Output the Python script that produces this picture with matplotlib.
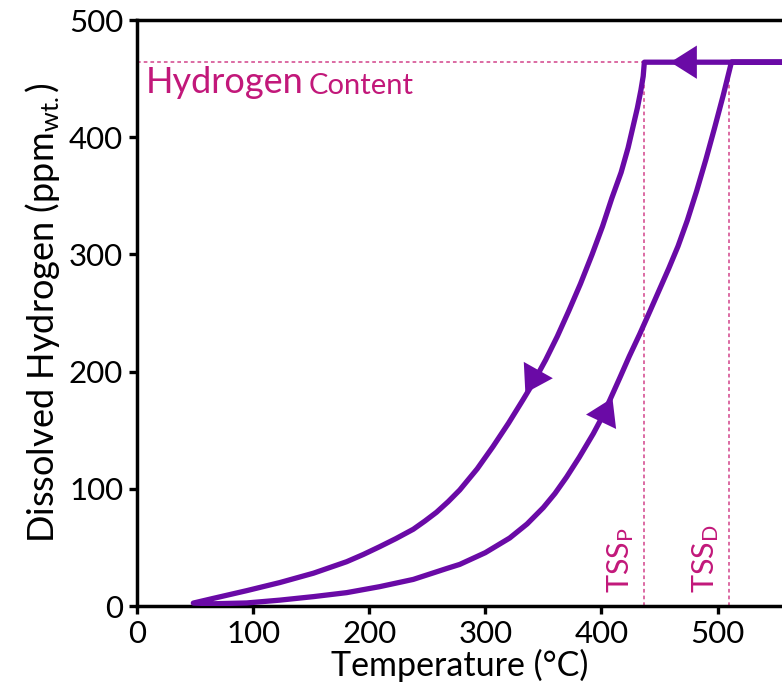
import matplotlib
matplotlib.use("Agg")
import matplotlib.pyplot as plt

plt.rcParams['font.family'] = ['Lato', 'DejaVu Sans']
plt.rcParams['mathtext.fontset'] = 'custom'
plt.rcParams['mathtext.rm'] = 'Lato'
plt.rcParams['mathtext.it'] = 'Lato:italic'

# ---- data ----
hydrogen_content = 464          # ppm
tssp_temp = 437                 # degC
tssd_temp = 510                 # degC

# precipitation (cooling) branch, from top to the low-temperature tip
tssp_x = [437, 436, 434, 431, 427, 423, 417, 409, 401, 392, 382, 372, 362, 352,
          341, 332.5, 320, 306.6, 293, 278, 268, 258, 248, 238, 223, 209, 195, 180.6,
          152, 123, 94.5, 65.7, 48.5]
tssp_y = [464, 452, 440, 425, 408, 391, 370, 348, 324, 300, 275, 252, 230, 210,
          190, 176, 156, 136, 117, 99, 89, 80, 72.5, 65.5, 57.5, 50.6, 44, 37.8,
          28, 20, 13.1, 6.5, 2.5]

# dissolution (heating) branch, from the tip to the top
tssd_x = [48.5, 65.7, 94.5, 123, 152, 180.6, 209, 238, 266.8, 278, 300, 321, 336, 350,
          360, 370, 381, 393, 400, 407.4, 416, 424, 433, 442, 450, 458, 466, 474, 482,
          490, 497.5, 505, 512]
tssd_y = [2.5, 1.9, 2.6, 5, 8, 11.4, 16.5, 22.7, 32, 35.5, 45.5, 58, 70, 84,
          96, 110, 127, 147, 160, 176, 195, 213, 232, 252, 270, 288, 307, 329, 354,
          381, 408, 436, 464]

# cooling starts from high temperature along the hydrogen content line
start_x = 600

# direction arrows (base -> tip)
arrow_bases = [(483.6, 464), (345.7, 201.4), (400.0, 157.8)]
arrow_tips = [(459.5, 464), (334.5, 181.7), (409.5, 177.5)]

xticks = [0, 100, 200, 300, 400, 500]
yticks = [0, 100, 200, 300, 400, 500]

purple = '#6a0aa6'
magenta = '#c2187a'
pink = '#d2428a'

fig = plt.figure(figsize=(7.82, 6.95), dpi=100)
ax = fig.add_axes([137 / 782, 89 / 695, 645 / 782, 586 / 695])

# cycle path
path_x = [start_x] + tssp_x + tssd_x + [start_x]
path_y = [hydrogen_content] + tssp_y + tssd_y + [hydrogen_content]
ax.plot(path_x, path_y, color=purple, lw=3.8, solid_joinstyle='round',
        solid_capstyle='round', zorder=3)

for b, t in zip(arrow_bases, arrow_tips):
    ax.annotate('', xy=t, xytext=b,
                arrowprops=dict(arrowstyle='-|>,head_length=1.9,head_width=1.2',
                                mutation_scale=10, color=purple, lw=0,
                                shrinkA=0, shrinkB=0), zorder=4)

# reference dashed lines
ax.plot([0, tssp_temp], [hydrogen_content, hydrogen_content], color=pink,
        lw=1.1, dashes=(2.4, 2.0), zorder=2)
ax.plot([tssp_temp, tssp_temp], [0, hydrogen_content], color=pink,
        lw=1.1, dashes=(2.4, 2.0), zorder=2)
ax.plot([tssd_temp, tssd_temp], [0, hydrogen_content], color=pink,
        lw=1.1, dashes=(2.4, 2.0), zorder=2)

# texts
t1 = ax.text(7.5, 437.5, 'Hydrogen', color=magenta, fontsize=26,
             ha='left', va='baseline')
ax.annotate('Content', xy=(1, 0), xycoords=t1, xytext=(4, 0),
            textcoords='offset points', color=magenta, fontsize=21,
            ha='left', va='bottom')

ax.text(tssp_temp - 7, 11, r'TSS$_{\mathregular{P}}$', rotation=90,
        color=magenta, fontsize=22, ha='right', va='bottom')
ax.text(tssd_temp - 7, 11, r'TSS$_{\mathregular{D}}$', rotation=90,
        color=magenta, fontsize=22, ha='right', va='bottom')

ax.set_xlim(0, 645 / 1.161)
ax.set_ylim(0, 500)
ax.set_xticks(xticks)
ax.set_yticks(yticks)
ax.tick_params(direction='out', length=6, width=2.4, labelsize=22.5, pad=4)

for s in ['left', 'bottom', 'top']:
    ax.spines[s].set_linewidth(2.5)
ax.spines['right'].set_visible(False)

ax.set_xlabel('Temperature (°C)', fontsize=24.5, labelpad=1)
ax.set_ylabel(r'Dissolved Hydrogen (ppm$_{\mathregular{wt.}}$)', fontsize=26, labelpad=5)

fig.savefig('out.png', dpi=100)
